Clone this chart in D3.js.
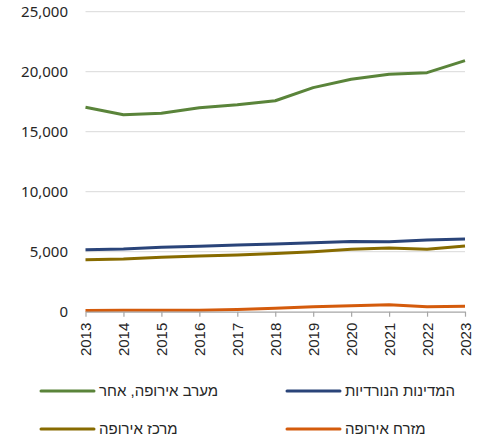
<!DOCTYPE html>
<html>
<head>
  <meta charset="utf-8">
  <style>
    body { margin: 0; background: #fff; }
    svg { display: block; }
  </style>
  <script src="https://d3js.org/d3.v7.min.js"></script>
</head>
<body>
  <svg id="chart" width="477" height="440"></svg>
  <script>
    // Chart data
    const years = [2013, 2014, 2015, 2016, 2017, 2018, 2019, 2020, 2021, 2022, 2023];
    const westEurope = [17030, 16420, 16530, 17000, 17250, 17580, 18670, 19370, 19780, 19920, 20920];
    const nordic = [5170, 5220, 5370, 5450, 5560, 5640, 5750, 5860, 5830, 5970, 6060];
    const centralEurope = [4330, 4390, 4530, 4640, 4720, 4860, 5000, 5200, 5310, 5200, 5470];
    const eastEurope = [110, 120, 120, 120, 190, 280, 420, 500, 580, 420, 450];
    const yTicks = [0, 5000, 10000, 15000, 20000, 25000];

    const series = [
      { name: "מערב אירופה, אחר", values: westEurope, color: "#5a843a" },
      { name: "המדינות הנורדיות", values: nordic, color: "#2a4479" },
      { name: "מרכז אירופה", values: centralEurope, color: "#876b00" },
      { name: "מזרח אירופה", values: eastEurope, color: "#d45b0c" }
    ];

    const svg = d3.select("#chart");
    const plot = { left: 85.5, right: 465, top: 11.7, bottom: 311.7 };

    const x = d3.scalePoint().domain(years).range([plot.left, plot.right]);
    const y = d3.scaleLinear().domain([0, 25000]).range([plot.bottom, plot.top]);

    // gridlines
    svg.append("g")
      .selectAll("line")
      .data(yTicks.filter(d => d > 0))
      .enter().append("line")
      .attr("x1", plot.left).attr("x2", plot.right)
      .attr("y1", d => y(d)).attr("y2", d => y(d))
      .attr("stroke", "#d9d9d9").attr("stroke-width", 1);

    // y labels
    svg.append("g")
      .selectAll("text")
      .data(yTicks)
      .enter().append("text")
      .attr("x", 68)
      .attr("y", d => y(d))
      .attr("dy", "0.35em")
      .attr("text-anchor", "end")
      .attr("font-family", "'Noto Sans', sans-serif")
      .attr("font-size", 15)
      .attr("fill", "#262626")
      .text(d => d3.format(",")(d));

    // lines
    const line = d3.line()
      .x((d, i) => x(years[i]))
      .y(d => y(d));

    svg.append("g")
      .selectAll("path")
      .data(series)
      .enter().append("path")
      .attr("d", d => line(d.values))
      .attr("fill", "none")
      .attr("stroke", d => d.color)
      .attr("stroke-width", 3)
      .attr("stroke-linejoin", "round");

    // x axis
    const xAxis = svg.append("g")
      .attr("transform", `translate(0,${plot.bottom})`)
      .call(d3.axisBottom(x).tickSize(5).tickSizeOuter(0));
    xAxis.select(".domain").attr("stroke", "#a6a6a6").attr("stroke-width", 1.2);
    xAxis.selectAll(".tick line").attr("stroke", "#a6a6a6").attr("stroke-width", 1.2);
    xAxis.selectAll(".tick text")
      .attr("font-family", "'Liberation Sans', Arial, sans-serif")
      .attr("font-size", 15)
      .attr("fill", "#262626")
      .attr("transform", "rotate(-90)")
      .attr("text-anchor", "end")
      .attr("x", -11)
      .attr("y", 0)
      .attr("dy", "0.35em");

    // legend
    const legendPos = [
      { lx: 41, ly: 391 },
      { lx: 287, ly: 391 },
      { lx: 41, ly: 429 },
      { lx: 287, ly: 429 }
    ];
    const legend = svg.append("g")
      .selectAll("g")
      .data(series)
      .enter().append("g")
      .attr("transform", (d, i) => `translate(${legendPos[i].lx},${legendPos[i].ly})`);

    legend.append("line")
      .attr("x1", 0).attr("x2", 53)
      .attr("stroke", d => d.color)
      .attr("stroke-width", 3)
      .attr("stroke-linecap", "round");

    legend.append("text")
      .attr("x", 58)
      .attr("dy", "0.35em")
      .attr("font-family", "'Liberation Sans', Arial, sans-serif")
      .attr("font-size", 15)
      .attr("fill", "#262626")
      .attr("direction", "rtl")
      .attr("text-anchor", "end")
      .text(d => d.name);
  </script>
</body>
</html>
